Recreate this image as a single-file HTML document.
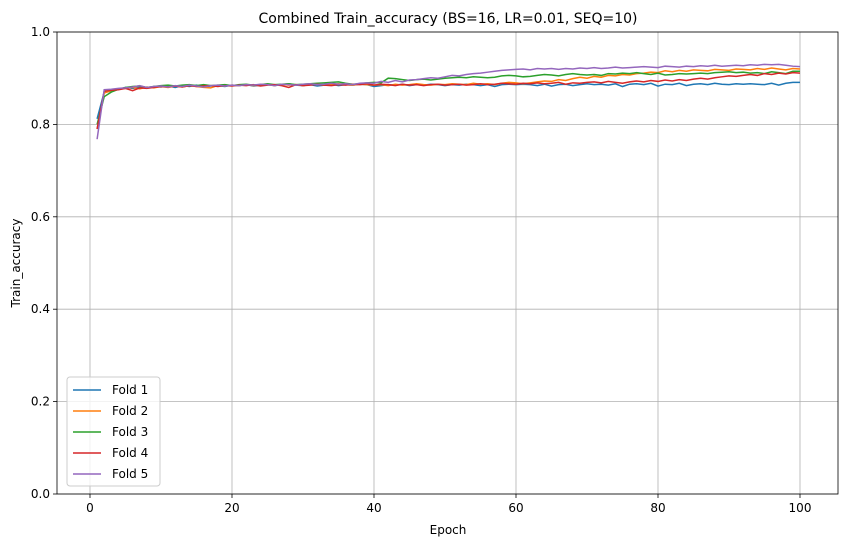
<!DOCTYPE html>
<html><head><meta charset="utf-8"><style>
body{margin:0;background:#fff;font-family:"Liberation Sans","DejaVu Sans",sans-serif;}
svg text{font-family:"DejaVu Sans","Liberation Sans",sans-serif;}
</style></head><body>
<svg id="chart" width="846" height="547">
<rect x="57" y="32" width="781" height="462" fill="#fff" stroke="none"/>
<g id="grid"></g><g id="series"></g><g id="axes"></g>
<text x="448" y="23" text-anchor="middle" font-size="14" fill="#000">Combined Train_accuracy (BS=16, LR=0.01, SEQ=10)</text>
<text x="448" y="534" text-anchor="middle" font-size="12">Epoch</text>
<text x="20" y="263" text-anchor="middle" font-size="12" transform="rotate(-90 20 263)">Train_accuracy</text>
<g id="legend"></g>
</svg>
<script>
const xTicks=[0,20,40,60,80,100];
const yTicks=[0.0,0.2,0.4,0.6,0.8,1.0];
const seriesNames=["Fold 1","Fold 2","Fold 3","Fold 4","Fold 5"];
const colors=["#1f77b4","#ff7f0e","#2ca02c","#d62728","#9467bd"];
const fold1=[0.812,0.870,0.872,0.876,0.880,0.878,0.880,0.879,0.882,0.881,0.883,0.880,0.884,0.882,0.885,0.881,0.883,0.884,0.882,0.885,0.884,0.886,0.883,0.885,0.887,0.884,0.886,0.888,0.885,0.884,0.886,0.883,0.885,0.887,0.884,0.886,0.885,0.887,0.886,0.882,0.884,0.886,0.885,0.887,0.884,0.886,0.885,0.887,0.886,0.884,0.886,0.885,0.887,0.886,0.884,0.886,0.882,0.886,0.887,0.886,0.887,0.886,0.884,0.887,0.883,0.886,0.887,0.884,0.886,0.888,0.886,0.887,0.885,0.888,0.882,0.887,0.888,0.886,0.889,0.883,0.887,0.886,0.889,0.884,0.887,0.888,0.886,0.889,0.887,0.886,0.888,0.887,0.888,0.887,0.886,0.889,0.885,0.889,0.891,0.891];
const fold2=[0.790,0.868,0.873,0.876,0.878,0.880,0.877,0.881,0.879,0.882,0.880,0.883,0.881,0.884,0.882,0.880,0.879,0.884,0.883,0.885,0.884,0.886,0.884,0.885,0.886,0.884,0.887,0.885,0.886,0.884,0.886,0.887,0.885,0.886,0.888,0.886,0.885,0.887,0.886,0.885,0.886,0.884,0.887,0.885,0.886,0.888,0.886,0.885,0.887,0.886,0.888,0.887,0.886,0.889,0.887,0.888,0.886,0.889,0.891,0.890,0.888,0.890,0.892,0.894,0.893,0.897,0.895,0.899,0.902,0.900,0.904,0.902,0.906,0.905,0.908,0.907,0.910,0.911,0.913,0.912,0.916,0.914,0.917,0.915,0.918,0.917,0.916,0.919,0.918,0.917,0.920,0.919,0.918,0.921,0.919,0.922,0.920,0.918,0.921,0.920];
const fold3=[0.800,0.860,0.870,0.876,0.880,0.882,0.883,0.880,0.882,0.884,0.885,0.883,0.885,0.886,0.884,0.886,0.884,0.885,0.886,0.884,0.886,0.887,0.885,0.886,0.888,0.886,0.887,0.888,0.886,0.887,0.888,0.889,0.890,0.891,0.892,0.889,0.887,0.888,0.890,0.891,0.890,0.900,0.899,0.897,0.895,0.897,0.898,0.896,0.898,0.900,0.901,0.902,0.901,0.903,0.902,0.901,0.902,0.905,0.906,0.905,0.903,0.904,0.906,0.908,0.907,0.905,0.908,0.910,0.908,0.907,0.908,0.906,0.910,0.909,0.911,0.910,0.912,0.910,0.908,0.911,0.907,0.908,0.910,0.909,0.910,0.911,0.910,0.912,0.913,0.914,0.912,0.913,0.911,0.912,0.910,0.914,0.912,0.910,0.915,0.915];
const fold4=[0.790,0.872,0.874,0.875,0.878,0.873,0.879,0.878,0.880,0.882,0.881,0.883,0.881,0.884,0.882,0.883,0.884,0.882,0.884,0.883,0.885,0.884,0.886,0.883,0.885,0.886,0.884,0.880,0.886,0.884,0.885,0.887,0.885,0.884,0.886,0.885,0.887,0.886,0.888,0.885,0.887,0.886,0.884,0.887,0.885,0.886,0.884,0.886,0.887,0.885,0.886,0.887,0.885,0.886,0.888,0.886,0.887,0.889,0.888,0.887,0.889,0.888,0.890,0.888,0.889,0.891,0.887,0.890,0.889,0.891,0.892,0.890,0.893,0.891,0.889,0.892,0.894,0.892,0.895,0.893,0.896,0.894,0.897,0.895,0.898,0.900,0.898,0.901,0.903,0.905,0.904,0.906,0.908,0.906,0.910,0.908,0.911,0.909,0.912,0.911];
const fold5=[0.768,0.875,0.876,0.878,0.879,0.881,0.884,0.880,0.882,0.883,0.881,0.884,0.882,0.885,0.883,0.881,0.884,0.885,0.883,0.885,0.884,0.886,0.885,0.887,0.886,0.884,0.887,0.886,0.885,0.887,0.888,0.886,0.887,0.889,0.887,0.888,0.886,0.889,0.890,0.889,0.893,0.891,0.895,0.892,0.896,0.897,0.899,0.901,0.900,0.903,0.906,0.905,0.908,0.910,0.911,0.913,0.915,0.917,0.918,0.919,0.920,0.918,0.921,0.920,0.921,0.919,0.921,0.920,0.922,0.921,0.923,0.921,0.922,0.924,0.922,0.923,0.924,0.925,0.924,0.923,0.926,0.925,0.924,0.926,0.925,0.927,0.926,0.928,0.926,0.927,0.928,0.927,0.929,0.928,0.930,0.929,0.930,0.928,0.926,0.925];
const folds=[fold1,fold2,fold3,fold4,fold5];
const NS="http://www.w3.org/2000/svg";
const X0=57,X1=838,Y0=32,Y1=494;
const xs=v=>90+(v-0)*(800-90)/100;
const ys=v=>Y1-(v-0)*(Y1-Y0)/1.0;
function mk(t,a,p){const e=document.createElementNS(NS,t);for(const k in a)e.setAttribute(k,a[k]);p.appendChild(e);return e;}
const grid=document.getElementById('grid'),axes=document.getElementById('axes'),ser=document.getElementById('series'),leg=document.getElementById('legend');
xTicks.forEach(t=>{const x=xs(t);
 const g=mk('line',{x1:x,x2:x,y1:Y0,y2:Y1,stroke:'#b0b0b0','stroke-width':0.8},grid);
 
 
 mk('line',{x1:x,x2:x,y1:Y1,y2:Y1+4,stroke:'#000','stroke-width':0.8},axes);
 const l=mk('text',{x:x,y:Y1+18,'text-anchor':'middle','font-size':12},axes);l.textContent=t;
 
 });
yTicks.forEach(t=>{const y=ys(t);
 const g=mk('line',{x1:X0,x2:X1,y1:y,y2:y,stroke:'#b0b0b0','stroke-width':0.8},grid);
 
 
 mk('line',{x1:X0-4,x2:X0,y1:y,y2:y,stroke:'#000','stroke-width':0.8},axes);
 const l=mk('text',{x:X0-7,y:y+4,'text-anchor':'end','font-size':12},axes);l.textContent=t.toFixed(1);
 
 });
const fr=mk('rect',{x:X0,y:Y0,width:X1-X0,height:Y1-Y0,fill:'none',stroke:'#000','stroke-width':0.8},axes);


folds.forEach((d,i)=>{const pts=d.map((v,j)=>xs(j+1).toFixed(2)+','+ys(v).toFixed(2)).join(' ');
 const p=mk('polyline',{points:pts,fill:'none',stroke:colors[i],'stroke-width':1.5},ser);
 
 });
const lb=mk('rect',{x:67,y:377,width:93,height:109,rx:3,fill:'#fff','fill-opacity':0.8,stroke:'#ccc'},leg);


seriesNames.forEach((n,i)=>{const y=390+i*21;
 mk('line',{x1:73,x2:101,y1:y,y2:y,stroke:colors[i],'stroke-width':1.5},leg);
 const t=mk('text',{x:112,y:y+4,'font-size':12},leg);t.textContent=n;
 
 });
</script>
</body></html>
